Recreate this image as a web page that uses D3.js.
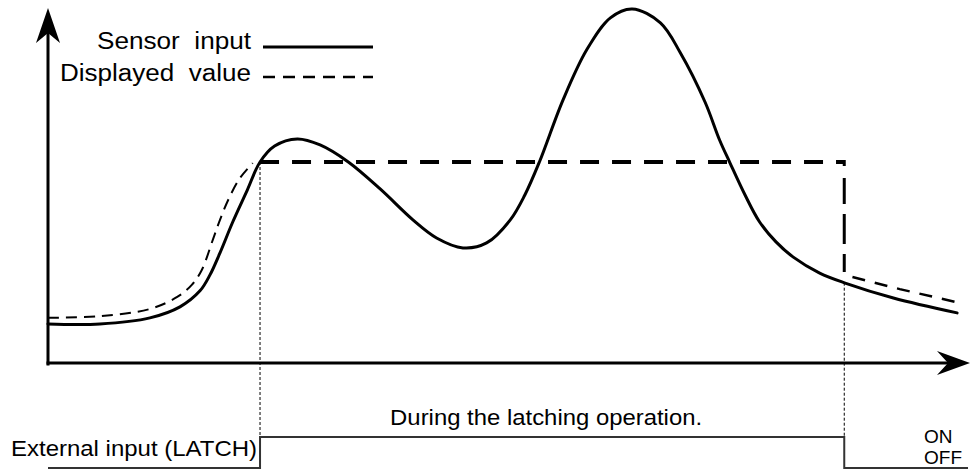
<!DOCTYPE html>
<html>
<head>
<meta charset="utf-8">
<script src="https://cdn.jsdelivr.net/npm/d3@7"></script>
<style>
  html, body { margin: 0; padding: 0; background: #fff; }
  svg { display: block; }
  text { font-family: "Liberation Sans", Arial, Helvetica, sans-serif; fill: #000; white-space: pre; }
</style>
</head>
<body>
<svg id="chart" width="975" height="470"></svg>
<script>
// Sensor input over time (time 0–100, level 0–100)
const sensorTime  = [0, 5.7, 11.2, 14.5, 16.7, 17.8, 18.9, 20.3, 21.9, 23.3, 24.9, 27.4, 29.9, 33.0, 36.5, 40.1, 42.7, 45.6, 48.2, 50.8, 52.4, 54.0, 56.6, 59.2, 61.8, 64.2, 67.3, 69.5, 72.2, 73.8, 74.9, 76.6, 78.2, 80.0, 81.9, 84.8, 87.6, 92.9, 99.9];
const sensorLevel = [11.3, 11.3, 13.0, 16.1, 20.6, 25.1, 31.3, 40.0, 49.0, 56.9, 61.4, 63.4, 61.7, 56.9, 49.3, 40.6, 35.5, 32.7, 34.1, 40.6, 47.6, 56.9, 74.4, 88.5, 97.5, 100, 96.1, 87.6, 73.8, 63.1, 56.9, 47.6, 40.0, 34.4, 30.1, 25.6, 22.8, 18.6, 14.4];

// Displayed value while tracking the input, before the latch
const displayPreTime  = [0, 5.7, 11.2, 14.2, 15.8, 16.9, 18.1, 18.9, 19.8, 21.1, 22.5];
const displayPreLevel = [13.0, 13.5, 15.5, 18.9, 22.3, 26.5, 34.9, 40.6, 46.2, 52.4, 56.6];

// Latch window and the value held during it
const latchStart = 23.3;
const latchEnd = 87.5;
const latchedLevel = 56.9;
const releaseLevel = 25.9;

// Displayed value after the latch is released
const displayPostTime  = [88.4, 93.6, 100.2];
const displayPostLevel = [24.5, 21.1, 17.2];

// External input (LATCH) signal
const signalTime  = [0, latchStart, latchEnd, 101.1];
const signalState = ["OFF", "ON", "OFF", "OFF"];
const stateLabels = ["ON", "OFF"];

// Text
const legendLabels = ["Sensor  input", "Displayed  value"];
const signalName = "External input (LATCH)";
const latchNote = "During the latching operation.";

const svg = d3.select("#chart");

const x = d3.scaleLinear().domain([0, 100]).range([48, 958]);
const y = d3.scaleLinear().domain([0, 100]).range([364, 9]);
const ySignal = d3.scalePoint().domain(["ON", "OFF"]).range([437, 468]);

const origin = { x: x(0), y: y(0) };

// Axes with arrowheads
const axisG = svg.append("g");
axisG.append("line")
  .attr("x1", origin.x).attr("y1", origin.y + 1.5)
  .attr("x2", origin.x).attr("y2", 30)
  .attr("stroke", "#000").attr("stroke-width", 3);
axisG.append("path")
  .attr("d", `M${origin.x},8 L${origin.x + 12},43 L${origin.x},33 L${origin.x - 12},43 Z`)
  .attr("fill", "#000");
axisG.append("line")
  .attr("x1", origin.x - 1.5).attr("y1", origin.y - 1)
  .attr("x2", 948).attr("y2", origin.y - 1)
  .attr("stroke", "#000").attr("stroke-width", 3);
axisG.append("path")
  .attr("d", `M970,${origin.y - 1} L937,${origin.y - 13} L948,${origin.y - 1} L937,${origin.y + 11} Z`)
  .attr("fill", "#000");

// Sensor curve generator (smooth through the sampled points)
const line = d3.line().x(d => x(d[0])).y(d => y(d[1])).curve(d3.curveCatmullRom.alpha(0.5));
const sensorData = sensorTime.map((t, i) => [t, sensorLevel[i]]);

// Dotted guides at latch start / end, from the sensor level down to the ON level
const sensorAt = t => {
  const i = d3.bisectLeft(sensorTime, t);
  if (i <= 0) return sensorLevel[0];
  const t0 = sensorTime[i - 1], t1 = sensorTime[i];
  return sensorLevel[i - 1] + (sensorLevel[i] - sensorLevel[i - 1]) * (t - t0) / (t1 - t0);
};
[[latchStart, latchedLevel], [latchEnd, sensorAt(latchEnd)]].forEach(([t, lv]) => {
  svg.append("line")
    .attr("x1", x(t)).attr("x2", x(t))
    .attr("y1", y(lv)).attr("y2", ySignal("ON"))
    .attr("stroke", "#000").attr("stroke-width", 1)
    .attr("stroke-dasharray", "3,2");
});

// Sensor input curve
svg.append("path")
  .attr("d", line(sensorData))
  .attr("fill", "none").attr("stroke", "#000").attr("stroke-width", 3)
  .attr("stroke-linecap", "round");

// Displayed value: tracking before the latch
const preData = displayPreTime.map((t, i) => [t, displayPreLevel[i]]);
svg.append("path")
  .attr("d", line(preData))
  .attr("fill", "none").attr("stroke", "#000").attr("stroke-width", 2)
  .attr("stroke-dasharray", "11,7");

// Displayed value: held during the latch
svg.append("path")
  .attr("d", d3.line()([[x(latchStart), y(latchedLevel)], [x(latchEnd), y(latchedLevel)]]))
  .attr("fill", "none").attr("stroke", "#000").attr("stroke-width", 4)
  .attr("stroke-dasharray", "19,13");
svg.append("path")
  .attr("d", d3.line()([[x(latchEnd), y(latchedLevel) - 2], [x(latchEnd), y(releaseLevel)]]))
  .attr("fill", "none").attr("stroke", "#000").attr("stroke-width", 3)
  .attr("stroke-dasharray", "6,12,26,10,30,10,40");

// Displayed value: tracking again after release
const postData = displayPostTime.map((t, i) => [t, displayPostLevel[i]]);
svg.append("path")
  .attr("d", d3.line().x(d => x(d[0])).y(d => y(d[1]))(postData))
  .attr("fill", "none").attr("stroke", "#000").attr("stroke-width", 2.5)
  .attr("stroke-dasharray", "13,10");

// Legend
const legend = svg.append("g");
legendLabels.forEach((label, i) => {
  const yy = 47 + i * 30;
  legend.append("text")
    .attr("x", 251).attr("y", yy + 2 + i * 2)
    .attr("text-anchor", "end")
    .attr("font-size", 23.5)
    .attr("textLength", i === 0 ? 154 : 191)
    .attr("lengthAdjust", "spacingAndGlyphs")
    .text(label);
  legend.append("line")
    .attr("x1", 263).attr("x2", 373).attr("y1", yy).attr("y2", yy)
    .attr("stroke", "#000")
    .attr("stroke-width", i === 0 ? 3 : 2.5)
    .attr("stroke-dasharray", i === 0 ? null : "12,8");
});

// External input signal trace
const sigData = signalTime.map((t, i) => [x(t), ySignal(signalState[i])]);
svg.append("path")
  .attr("d", d3.line().curve(d3.curveStepAfter)(sigData))
  .attr("fill", "none").attr("stroke", "#333").attr("stroke-width", 2);

svg.append("text")
  .attr("x", 11).attr("y", 456)
  .attr("font-size", 22.5)
  .attr("textLength", 246).attr("lengthAdjust", "spacingAndGlyphs")
  .text(signalName);

svg.append("text")
  .attr("x", (x(latchStart) + x(latchEnd)) / 2 - 6).attr("y", 425)
  .attr("text-anchor", "middle")
  .attr("font-size", 21.5)
  .attr("textLength", 312).attr("lengthAdjust", "spacingAndGlyphs")
  .text(latchNote);

stateLabels.forEach((s, i) => {
  svg.append("text")
    .attr("x", 924).attr("y", 443 + i * 21)
    .attr("font-size", 19)
    .text(s);
});
</script>
</body>
</html>
